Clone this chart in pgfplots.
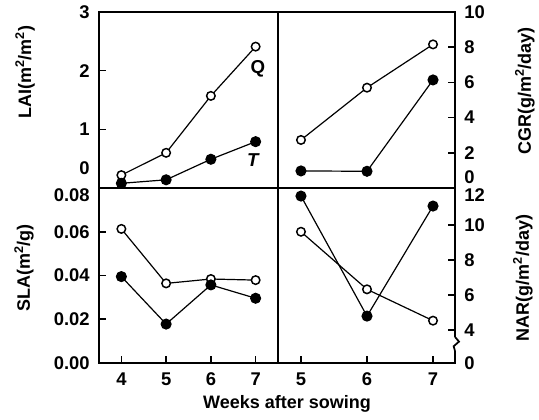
\documentclass[border=0pt]{standalone}
\usepackage{fontspec}
\setmainfont{Liberation Sans}
\usepackage{pgfplots}
\pgfplotsset{compat=1.18}
\newcommand{\tf}{\fontsize{13.8}{14}\selectfont\bfseries}
\newcommand{\lf}{\fontsize{13.5}{15}\selectfont\bfseries}

\pgfplotsset{
  panel/.style={
    scale only axis, clip=false,
    axis line style={line width=1.5pt},
    every tick/.style={black, line width=1.2pt},
    major tick length=5pt,
    tick label style={font=\tf},
    label style={font=\lf},
    /pgf/number format/assume math mode=true,
    scaled y ticks=false,
    extra y tick style={major tick length=0pt},
  },
  left/.style={xmin=3.5, xmax=7.5, width=134.25pt,
    ytick pos=left, yticklabel style={xshift=-3.5pt}},
  right/.style={xmin=4.652, xmax=7.333, width=132.75pt,
    ytick pos=right, yticklabel pos=right, yticklabel style={xshift=3.5pt}},
  top/.style={height=132pt, xtick=\empty},
  bot/.style={height=131.25pt},
  Q/.style={black, line width=0.9pt, mark=*, mark size=3.2pt,
    mark options={fill=white, draw=black, line width=1.1pt}},
  T/.style={black, line width=0.9pt, mark=*, mark size=3.7pt,
    mark options={fill=black, draw=black}},
}

\begin{document}
\begin{tikzpicture}
\path[use as bounding box] (0,0) rectangle (404.25pt,-314.25pt);

% ---- LAI (top left)
\begin{axis}[panel, left, top,
  at={(74.25pt,-141pt)}, anchor=south west,
  ymin=0, ymax=3,
  ytick={1,2,3}, yticklabels={1,2,3},
  extra y ticks={0.34}, extra y tick labels={0},
  ylabel={LAI(m\textsuperscript{2}/m\textsuperscript{2})},
  ylabel style={at={(axis description cs:-0.413,0.659)}, anchor=center},
]
\addplot[Q] coordinates {(4,0.22) (5,0.60) (6,1.57) (7,2.41)};
\addplot[T] coordinates {(4,0.08) (5,0.14) (6,0.49) (7,0.79)};
\node[font=\fontsize{14}{14}\selectfont\bfseries] at (axis cs:7.05,2.03) {Q};
\node[font=\fontsize{14}{14}\selectfont\bfseries\itshape] at (axis cs:6.94,0.48) {T};
\end{axis}

% ---- CGR (top right)
\begin{axis}[panel, right, top,
  at={(208.5pt,-141pt)}, anchor=south west,
  ymin=0, ymax=10,
  ytick={2,4,6,8,10}, yticklabels={2,4,6,8,10},
  extra y ticks={0.63}, extra y tick labels={0},
  ylabel={CGR(g/m\textsuperscript{2}/day)},
  ylabel style={at={(axis description cs:1.395,0.551)}, anchor=center},
]
\addplot[Q] coordinates {(5,2.73) (6,5.70) (7,8.16)};
\addplot[T] coordinates {(5,0.97) (6,0.95) (7,6.14)};
\end{axis}

% ---- SLA (bottom left)
\begin{axis}[panel, left, bot,
  at={(74.25pt,-272.25pt)}, anchor=south west,
  ymin=0, ymax=0.08,
  xtick={4,5,6,7}, xticklabels={4,5,6,7}, xtick pos=left,
  xticklabel style={yshift=-4pt},
  ytick={0,0.02,0.04,0.06}, yticklabels={0.00,0.02,0.04,0.06},
  extra y ticks={0.0768}, extra y tick labels={0.08},
  ylabel={SLA(m\textsuperscript{2}/g)},
  ylabel style={at={(axis description cs:-0.419,0.543)}, anchor=center},
  xlabel={Weeks after sowing},
  xlabel style={at={(axis description cs:1.05,-0.234)}, anchor=center},
]
\addplot[Q] coordinates {(4,0.0613) (5,0.0364) (6,0.0384) (7,0.0379)};
\addplot[T] coordinates {(4,0.0395) (5,0.0178) (6,0.0357) (7,0.0296)};
\end{axis}

% ---- NAR (bottom right)
\begin{axis}[panel, right, bot,
  at={(208.5pt,-272.25pt)}, anchor=south west,
  ymin=2.11, ymax=12.11,
  xtick={5,6,7}, xticklabels={5,6,7}, xtick pos=left,
  xticklabel style={yshift=-4pt},
  ytick={4,6,8,10}, yticklabels={4,6,8,10},
  extra y ticks={2.11,11.72}, extra y tick labels={0,12},
  ylabel={NAR(g/m\textsuperscript{2}/day)},
  ylabel style={at={(axis description cs:1.384,0.486)}, anchor=center},
]
\addplot[Q] coordinates {(5,9.61) (6,6.32) (7,4.53)};
\addplot[T] coordinates {(5,11.65) (6,4.79) (7,11.08)};
\draw[white, line width=3pt] (axis cs:7.333,3.6) -- (axis cs:7.333,2.8);
\draw[line width=1.3pt] (axis cs:7.333,3.6) -- ++(3pt,-3.5pt) -- ++(-4pt,-3.5pt) -- ++(1pt,-3.5pt);
\end{axis}
\end{tikzpicture}
\end{document}
